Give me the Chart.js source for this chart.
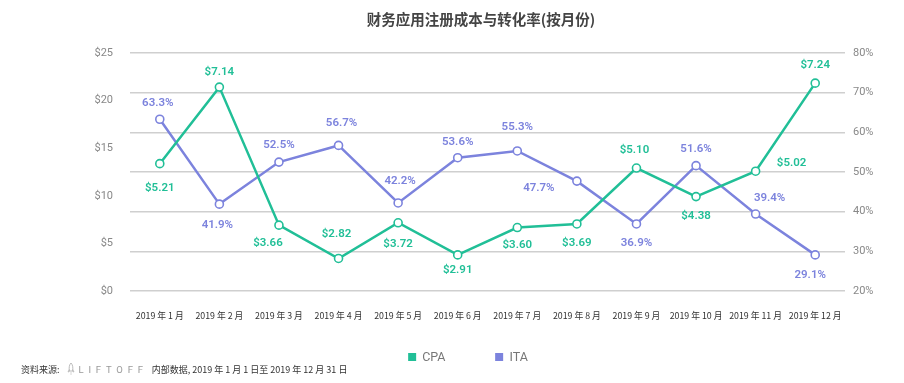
<!DOCTYPE html>
<html>
<head>
<meta charset="utf-8">
<script src="https://cdn.jsdelivr.net/npm/chart.js@4.4.1/dist/chart.umd.min.js"></script>
<style>
  html, body { margin: 0; padding: 0; background: #fff; }
  #wrap { position: relative; width: 904px; height: 383px; overflow: hidden; }
  #c { position: absolute; left: 0; top: 0; }
  #title { position: absolute; top: 8px; left: 481px; transform: translateX(-50%); white-space: nowrap;
           font: 600 14.5px 'Noto Sans CJK SC', sans-serif; color: #444; }
  #legend { position: absolute; top: 349px; left: 468px; transform: translateX(-50%); white-space: nowrap;
            font: 12.5px Roboto, sans-serif; color: #777; display: flex; gap: 50px; }
  #legend span.item { display: inline-flex; align-items: center; }
  #legend i { display: inline-block; width: 8px; height: 8px; margin-right: 6px; }
  #footer { position: absolute; top: 362px; left: 21px; white-space: nowrap; display: flex; align-items: center;
            font: 9px 'Noto Sans CJK SC', sans-serif; color: #333; }
  #footer .logo { font: 9.5px Roboto, sans-serif; color: #999; letter-spacing: 4.8px; margin: 0 4px 0 3px; }
</style>
</head>
<body>
<div id="wrap">
  <canvas id="c" width="904" height="383"></canvas>
  <div id="title">财务应用注册成本与转化率(按月份)</div>
  <div id="legend"></div>
  <div id="footer"><span>资料来源:</span>
    <svg width="10" height="14" viewBox="0 0 10 14" style="margin-left:6px">
      <path d="M5 1 C3 3 3 6 3.3 9 L6.7 9 C7 6 7 3 5 1 Z" fill="none" stroke="#aaa" stroke-width="0.8"/>
      <path d="M3.3 7.5 L2 10 L3.5 9.5 M6.7 7.5 L8 10 L6.5 9.5" fill="none" stroke="#aaa" stroke-width="0.7"/>
      <path d="M5 10 L5 13" stroke="#ccc" stroke-width="0.8"/>
    </svg>
    <span class="logo">LIFTOFF</span><span>内部数据, 2019 年 1 月 1 日至 2019 年 12 月 31 日</span></div>
</div>
<script>
// ---- data ----
const months = ['2019 年 1 月','2019 年 2 月','2019 年 3 月','2019 年 4 月','2019 年 5 月','2019 年 6 月',
                '2019 年 7 月','2019 年 8 月','2019 年 9 月','2019 年 10 月','2019 年 11 月','2019 年 12 月'];
const cpaValues = [5.21, 7.14, 3.66, 2.82, 3.72, 2.91, 3.60, 3.69, 5.10, 4.38, 5.02, 7.24];
const itaValues = [63.3, 41.9, 52.5, 56.7, 42.2, 53.6, 55.3, 47.7, 36.9, 51.6, 39.4, 29.1];
const leftTicks = [0, 5, 10, 15, 20, 25];
const rightTicks = [20, 30, 40, 50, 60, 70, 80];

// ---- label placement (style) ----
const cpaLabelOffsets = [[0,24],[0,-15],[-11,18],[-2,-24],[0,21],[0,15],[0,18],[0,19],[-2,-18],[0,20],[36,-8],[0,-18]];
const itaLabelOffsets = [[-2,-16],[-2,21],[0,-17],[3,-22],[2,-22],[0,-16],[0,-24],[-38,7],[0,19],[0,-17],[14,-16],[-5,20]];

const CPA_COLOR = '#21bf97';
const ITA_COLOR = '#7c83dd';

const labelPlugin = {
  id: 'pointLabels',
  afterDatasetsDraw(chart) {
    const ctx = chart.ctx;
    ctx.save();
    ctx.font = '600 11.5px Roboto, sans-serif';
    ctx.textAlign = 'center';
    ctx.textBaseline = 'middle';
    chart.data.datasets.forEach((ds, di) => {
      const meta = chart.getDatasetMeta(di);
      meta.data.forEach((el, i) => {
        const off = ds.labelOffsets[i];
        ctx.fillStyle = ds.borderColor;
        ctx.fillText(ds.fmt(ds.data[i]), el.x + off[0], el.y + off[1]);
      });
    });
    ctx.restore();
  }
};

const chart = new Chart(document.getElementById('c'), {
  type: 'line',
  data: {
    labels: months,
    datasets: [
      { label: 'CPA', data: cpaValues, yAxisID: 'yC', borderColor: CPA_COLOR, backgroundColor: CPA_COLOR,
        borderWidth: 2.5, pointRadius: 4, pointBorderWidth: 1.6, pointBackgroundColor: '#fff',
        pointBorderColor: CPA_COLOR, tension: 0, labelOffsets: cpaLabelOffsets, fmt: v => '$' + v.toFixed(2) },
      { label: 'ITA', data: itaValues, yAxisID: 'yR', borderColor: ITA_COLOR, backgroundColor: ITA_COLOR,
        borderWidth: 2.5, pointRadius: 4, pointBorderWidth: 1.6, pointBackgroundColor: '#fff',
        pointBorderColor: ITA_COLOR, tension: 0, labelOffsets: itaLabelOffsets, fmt: v => v.toFixed(1) + '%' }
    ]
  },
  options: {
    responsive: false,
    animation: false,
    devicePixelRatio: 1,
    layout: { padding: { top: 53, left: 0, right: 0, bottom: 0 } },
    plugins: { legend: { display: false }, title: { display: false }, tooltip: { enabled: false } },
    scales: {
      x: {
        offset: true,
        grid: { display: false },
        border: { display: false },
        ticks: { font: { size: 8.8, family: "'Noto Sans CJK SC', sans-serif" }, color: '#333', padding: 11,
                 maxRotation: 0, autoSkip: false },
        afterFit: s => { s.height = 92; }
      },
      yL: {
        position: 'left',
        min: leftTicks[0], max: leftTicks[leftTicks.length - 1],
        afterBuildTicks: s => { s.ticks = leftTicks.map(v => ({ value: v })); },
        grid: { display: false },
        border: { display: false },
        ticks: { callback: v => '$' + v, font: { size: 11, family: 'Roboto, sans-serif' }, color: '#888', padding: 9 },
        afterFit: s => { s.width = 130; }
      },
      yC: { position: 'left', display: false, min: 2, max: 8 },
      yR: {
        position: 'right',
        min: rightTicks[0], max: rightTicks[rightTicks.length - 1],
        afterBuildTicks: s => { s.ticks = rightTicks.map(v => ({ value: v })); },
        grid: { color: '#cfcfcf', lineWidth: 1.5, drawTicks: false },
        border: { display: false },
        ticks: { callback: v => v + '%', font: { size: 11, family: 'Roboto, sans-serif' }, color: '#888', padding: 8 },
        afterFit: s => { s.width = 59; }
      }
    }
  },
  plugins: [labelPlugin]
});

// HTML legend built from datasets
const lg = document.getElementById('legend');
chart.data.datasets.forEach(ds => {
  const it = document.createElement('span');
  it.className = 'item';
  const box = document.createElement('i');
  box.style.background = ds.borderColor;
  it.appendChild(box);
  it.appendChild(document.createTextNode(ds.label));
  lg.appendChild(it);
});
</script>
</body>
</html>
